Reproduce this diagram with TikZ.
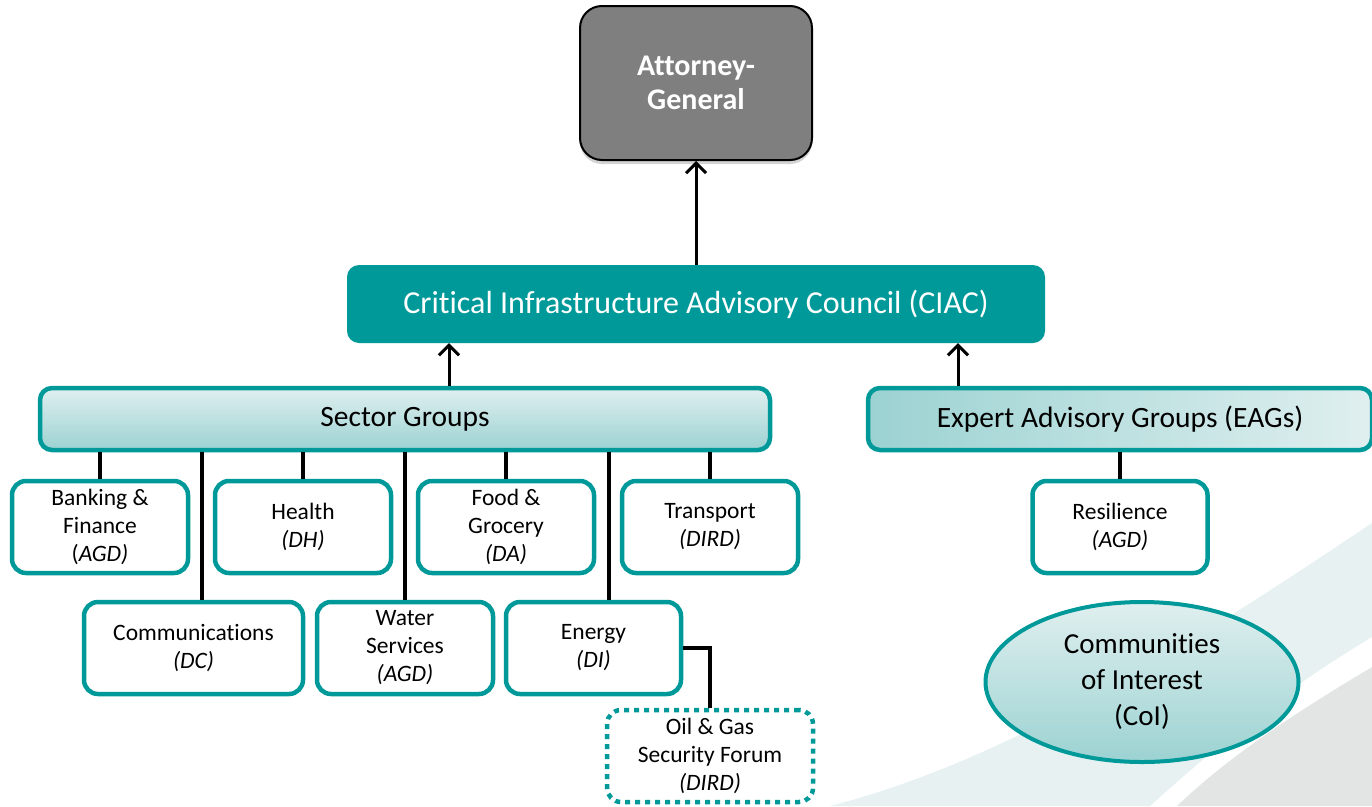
\documentclass[tikz,border=0pt]{standalone}
\usepackage{fontspec}
\setmainfont{Carlito}[Ligatures={NoCommon}]
\usetikzlibrary{arrows.meta,shapes.geometric,shadows}
\definecolor{tealA}{HTML}{009999}
\definecolor{lightA}{HTML}{E0EFEF}
\definecolor{lightB}{HTML}{9CD2D2}
\definecolor{bandteal}{HTML}{E7F1F1}
\definecolor{bandgray}{HTML}{E3E4E4}
\definecolor{aggray}{HTML}{7F7F7F}
\begin{document}
\begin{tikzpicture}[x=1pt,y=-1pt,
  childbox/.style={draw=tealA, line width=4.5pt, fill=white, rounded corners=14pt,
    minimum width=176pt, minimum height=92pt, align=center, inner sep=0pt,
    font=\fontsize{23.5}{28}\selectfont},
  groupbox/.style={draw=tealA, line width=4.5pt, rounded corners=12pt,
    minimum height=62pt, inner sep=0pt, font=\fontsize{29.5}{34}\selectfont},
  conn/.style={line width=3.5pt, black},
  arr/.style={line width=3pt, black, -{Straight Barb[length=10pt,width=20pt]}}
]
\useasboundingbox (0,0) rectangle (1372,806);
% background swoosh
\fill[bandteal] (1372,523) .. controls (1190,645) and (1010,760) .. (830,806)
  -- (1150,806) .. controls (1240,725) and (1300,680) .. (1372,637) -- cycle;
\fill[bandgray] (1372,667) .. controls (1300,710) and (1230,755) .. (1177,806)
  -- (1372,806) -- cycle;

% nodes
\node[draw=black, line width=2pt, fill=aggray, rounded corners=22pt,
  minimum width=232pt, minimum height=154pt, align=center, text=white,
  font=\fontsize{30}{34}\selectfont\bfseries,
  drop shadow={shadow xshift=0pt, shadow yshift=-4pt, opacity=0.35}]
  (ag) at (696,83) {Attorney-\\General};
\node[fill=tealA, rounded corners=12pt, minimum width=698pt, minimum height=78pt,
  text=white, font=\fontsize{32}{36}\selectfont] (ciac) at (696,304)
  {Critical Infrastructure Advisory Council (CIAC)};
\node[groupbox, minimum width=730pt, top color=lightA, bottom color=lightB]
  (sg) at (405,419) {Sector Groups};
\node[groupbox, minimum width=504pt, left color=lightB, right color=lightA]
  (eag) at (1120,419) {Expert Advisory Groups (EAGs)};

\node[childbox] (bank) at (100,527) {Banking \&\\Finance\\(\textit{AGD)}};
\node[childbox] (health) at (303,527) {Health\\\textit{(DH)}};
\node[childbox] (food) at (506,527) {Food \&\\Grocery\\\textit{(DA)}};
\node[childbox] (trans) at (710,527) {Transport\\\textit{(DIRD)}};
\node[childbox, minimum width=219pt] (comm) at (193.5,648) {Communications\\\textit{(DC)}};
\node[childbox] (water) at (405,648) {Water\\Services\\\textit{(AGD)}};
\node[childbox, minimum width=175pt] (energy) at (593.5,648) {Energy\\\textit{(DI)}};
\node[childbox, minimum width=206pt, dash pattern=on 5pt off 5pt] (oil) at (710,756)
  {Oil \& Gas\\Security Forum\\\textit{(DIRD)}};
\node[childbox, minimum width=175pt] (res) at (1120,527) {Resilience\\\textit{(AGD)}};
\node[ellipse, draw=tealA, line width=4pt, top color=lightA, bottom color=lightB,
  minimum width=313pt, minimum height=160pt, inner sep=0pt, align=center,
  font=\fontsize{29}{36}\selectfont] (coi) at (1142,682)
  {Communities\\of Interest\\(CoI)};

% connectors
\draw[arr] (ciac.north) -- (ag.south);
\draw[arr] ([xshift=44pt]sg.north) -- ([xshift=44pt]sg.north |- ciac.south);
\draw[arr] ([xshift=-162pt]eag.north) -- ([xshift=-162pt]eag.north |- ciac.south);
\draw[conn] (bank.north) -- (bank.north |- sg.south);
\draw[conn] (health.north) -- (health.north |- sg.south);
\draw[conn] (food.north) -- (food.north |- sg.south);
\draw[conn] (trans.north) -- (trans.north |- sg.south);
\draw[conn] ([xshift=8.5pt]comm.north) -- ([xshift=8.5pt]comm.north |- sg.south);
\draw[conn] (water.north) -- (water.north |- sg.south);
\draw[conn] ([xshift=15.5pt]energy.north) -- ([xshift=15.5pt]energy.north |- sg.south);
\draw[conn] (energy.east) -| (oil.north);
\draw[conn] (res.north) -- (res.north |- eag.south);
\end{tikzpicture}
\end{document}
